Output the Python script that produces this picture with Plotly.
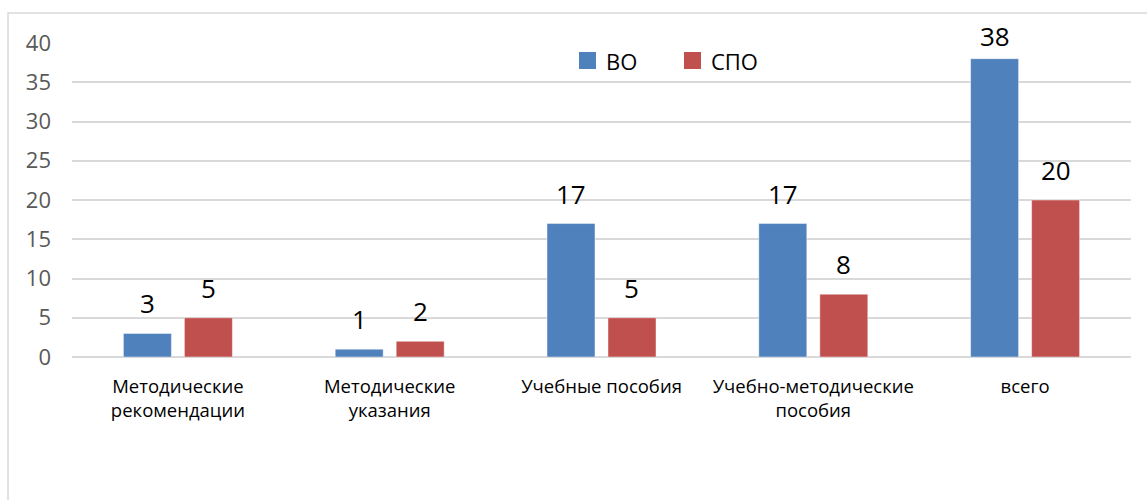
import plotly.graph_objects as go

categories = ["Методические<br>рекомендации", "Методические<br>указания", "Учебные пособия",
              "Учебно-методические<br>пособия", "всего"]
vo_values = [3, 1, 17, 17, 38]
spo_values = [5, 2, 5, 8, 20]
y_ticks = [0, 5, 10, 15, 20, 25, 30, 35, 40]
series_names = ["ВО", "СПО"]

FONT = "Open Sans"
BLUE = "#4F81BD"
RED = "#C0504D"
GRID = "#D9D9D9"

W, H = 1147, 500
M_L, M_R, M_T, M_B = 72, 16, 43, 143
Y_MAX = 40
BARGAP, BARGROUPGAP = 0.424, 0.213

plot_w = W - M_L - M_R
plot_h = H - M_T - M_B
px_per_unit = plot_h / Y_MAX
cat_px = plot_w / len(categories)
slot_px = cat_px * (1 - BARGAP) / 2

fig = go.Figure()
series = [(series_names[0], vo_values, BLUE), (series_names[1], spo_values, RED)]
for name, vals, color in series:
    fig.add_trace(go.Bar(
        name=name, x=categories, y=vals,
        marker=dict(color=color, line=dict(color="rgba(255,255,255,0.45)", width=1)),
        showlegend=False,
    ))

# value labels above each bar, kept inside the top of the plot area
annotations = []
for i, (name, vals, color) in enumerate(series):
    offset = (i - 0.5) * slot_px
    for cat, v in zip(categories, vals):
        shift = min(10, (Y_MAX - v) * px_per_unit - 13)
        annotations.append(dict(
            x=cat, y=v, xref="x", yref="y", text=str(v), showarrow=False,
            xshift=offset, yshift=shift, yanchor="bottom", xanchor="center",
            font=dict(family=FONT, size=26, color="#000000"),
        ))

# legend drawn as square swatches with labels
shapes = [dict(type="rect", xref="paper", yref="paper",
               x0=-0.0604, x1=1.2, y0=-0.7, y1=1.0955,
               line=dict(color=GRID, width=1.5), layer="below")]
legend_x = [579, 684]
for (name, vals, color), lx in zip(series, legend_x):
    x0 = (lx - M_L) / plot_w
    x1 = (lx + 17 - M_L) / plot_w
    shapes.append(dict(type="rect", xref="paper", yref="paper",
                       x0=x0, x1=x1, y0=(H - M_B - 69) / plot_h, y1=(H - M_B - 52) / plot_h,
                       fillcolor=color, line=dict(width=0)))
    annotations.append(dict(
        x=(lx + 25 - M_L) / plot_w, y=(H - M_B - 60.5) / plot_h, xref="paper", yref="paper",
        text=name, showarrow=False, xanchor="left", yanchor="middle",
        font=dict(family=FONT, size=22, color="#000000"),
    ))

fig.update_layout(
    width=W, height=H,
    margin=dict(l=M_L, r=M_R, t=M_T, b=M_B),
    paper_bgcolor="white", plot_bgcolor="white",
    barmode="group", bargap=BARGAP, bargroupgap=BARGROUPGAP,
    font=dict(family=FONT),
    showlegend=False,
    xaxis=dict(showgrid=False, showline=False, ticks="",
               tickfont=dict(family=FONT, size=18.5, color="#000000"),
               ticklabelstandoff=16),
    yaxis=dict(range=[0, Y_MAX], tickvals=y_ticks, showgrid=True, gridcolor=GRID, gridwidth=1.5,
               zeroline=True, zerolinecolor=GRID, zerolinewidth=1.5, showline=False,
               tickfont=dict(family=FONT, size=22, color="#595959"), ticklabelstandoff=20),
    shapes=shapes,
    annotations=annotations,
)

fig.write_html("out.html")
